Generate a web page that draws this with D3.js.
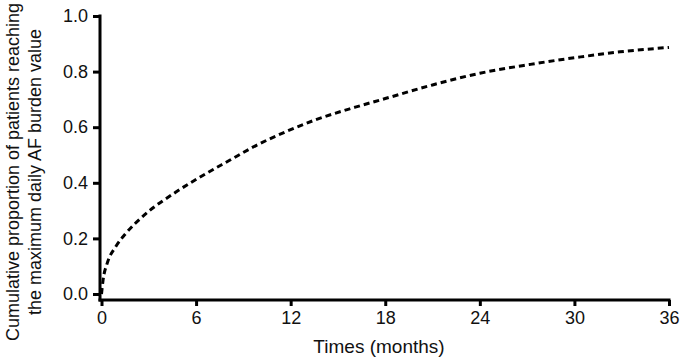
<!DOCTYPE html>
<meta charset="utf-8">
<script src="https://d3js.org/d3.v7.min.js"></script>
<style>
  body { margin: 0; background: #fff; }
  text { font-family: "Liberation Sans", Arial, sans-serif; fill: #111; }
</style>
<svg id="chart" width="684" height="361"></svg>
<script>
// data
const months = [0, 0.1, 0.36, 0.9, 1.5, 2.8, 4.7, 6.6, 8.1, 9.8, 11.7, 13.6, 16.1, 18, 21, 24, 27.2, 30.4, 32.9, 36];
const proportion = [0, 0.05, 0.11, 0.17, 0.215, 0.288, 0.366, 0.432, 0.48, 0.534, 0.584, 0.627, 0.672, 0.703, 0.752, 0.794, 0.826, 0.853, 0.871, 0.887];
const xTicks = [0, 6, 12, 18, 24, 30, 36];
const yTicks = [0, 0.2, 0.4, 0.6, 0.8, 1.0];

const svg = d3.select("#chart");

const x = d3.scaleLinear().domain([0, 36]).range([101.5, 669]);
const y = d3.scaleLinear().domain([0, 1]).range([294, 16]);
const axisY0 = 300; // x axis sits a bit below zero
const axisX0 = 100;

// x axis
const gx = svg.append("g").attr("transform", `translate(0,${axisY0})`)
  .call(d3.axisBottom(x).tickValues(xTicks).tickSize(6).tickPadding(5).tickFormat(d3.format("d")));
gx.select(".domain").attr("d", `M${axisX0 - 1.5},0H${x(36) + 1.5}`);

// y axis
const gy = svg.append("g").attr("transform", `translate(${axisX0},0)`)
  .call(d3.axisLeft(y).tickValues(yTicks).tickSize(7).tickPadding(5).tickFormat(d3.format(".1f")));
gy.select(".domain").attr("d", `M0,${y(1) - 1.5}V${axisY0 + 1.5}`);

svg.selectAll(".domain").attr("stroke", "#000").attr("stroke-width", 3);
svg.selectAll(".tick line").attr("stroke", "#000").attr("stroke-width", 3);
svg.selectAll(".tick text").attr("font-size", 18).attr("fill", "#111");

// curve
const line = d3.line()
  .x((d, i) => x(months[i]))
  .y(d => y(d))
  .curve(d3.curveMonotoneX);

svg.append("path")
  .datum(proportion)
  .attr("d", line)
  .attr("fill", "none")
  .attr("stroke", "#000")
  .attr("stroke-width", 3)
  .attr("stroke-dasharray", "6,4");

// titles
svg.append("text")
  .attr("x", 379).attr("y", 353)
  .attr("text-anchor", "middle")
  .attr("font-size", 19)
  .text("Times (months)");

const yt = svg.append("text")
  .attr("transform", "translate(19,172) rotate(-90)")
  .attr("text-anchor", "middle")
  .attr("font-size", 18);
yt.append("tspan").attr("x", 0).attr("dy", 0).text("Cumulative proportion of patients reaching");
yt.append("tspan").attr("x", 0).attr("dy", 22).text("the maximum daily AF burden value");
</script>
